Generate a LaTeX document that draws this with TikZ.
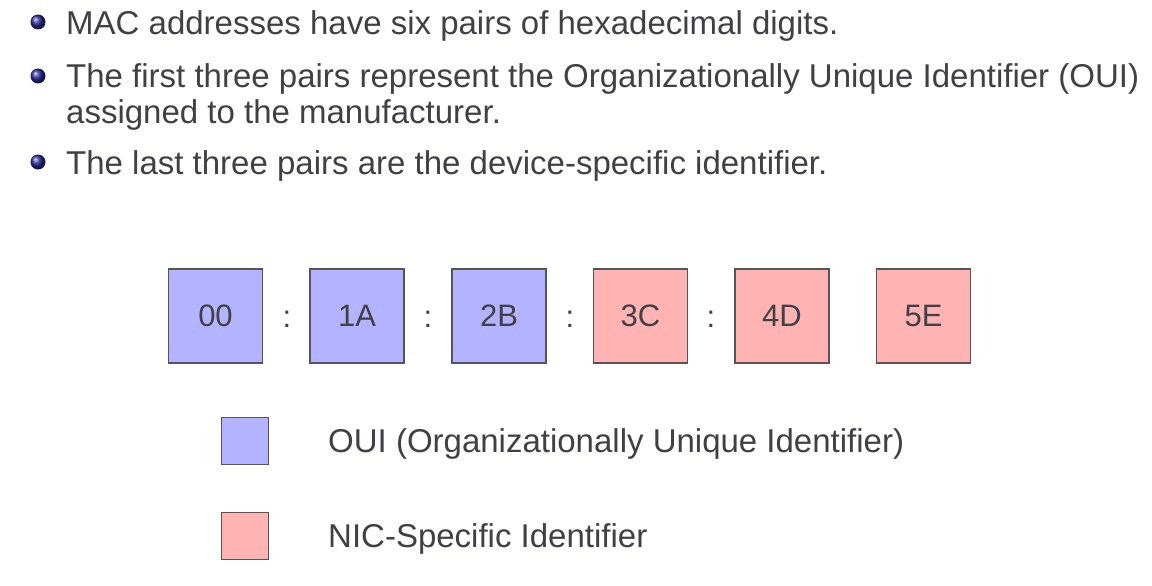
\documentclass[tikz,border=0pt]{standalone}
\usepackage{fontspec}
\setmainfont{Liberation Sans}
\definecolor{txt}{RGB}{64,64,70}
\definecolor{ouifill}{RGB}{179,179,255}
\definecolor{nicfill}{RGB}{255,179,179}
\definecolor{edge}{RGB}{85,85,85}
\definecolor{ballc}{RGB}{40,40,150}
\begin{document}
\begin{tikzpicture}[x=1pt,y=-1pt,
  line/.style={anchor=base west,inner sep=0pt,text=txt,font=\fontsize{33}{40}\selectfont},
  bytebox/.style={draw=edge,line width=1.4pt,minimum width=94pt,minimum height=94pt,inner sep=0pt,text=txt,font=\fontsize{31}{36}\selectfont},
  legbox/.style={draw=edge,line width=1.4pt,minimum width=47pt,minimum height=47pt,inner sep=0pt},
  sep/.style={anchor=base,inner sep=0pt,text=txt,font=\fontsize{31}{36}\selectfont}]
\useasboundingbox[fill=white] (0,0) rectangle (1152,586);
% bullets
\shade[ball color=ballc] (38,22) circle (7.5);
\shade[ball color=ballc] (38,76) circle (7.5);
\shade[ball color=ballc] (38,162) circle (7.5);
\node[line] (l1) at (66,35) {MAC addresses have six pairs of hexadecimal digits.};
\node[line] (l2) at (66,88) {The first three pairs represent the Organizationally Unique Identifier (OUI)};
\node[line] (l3) at (66,124) {assigned to the manufacturer.};
\node[line] (l4) at (66,174) {The last three pairs are the device-specific identifier.};
% bytes
\node[bytebox,fill=ouifill] (b1) at (215.5,316) {00};
\node[bytebox,fill=ouifill] (b2) at (357,316) {1A};
\node[bytebox,fill=ouifill] (b3) at (499,316) {2B};
\node[bytebox,fill=nicfill] (b4) at (640.5,316) {3C};
\node[bytebox,fill=nicfill] (b5) at (782,316) {4D};
\node[bytebox,fill=nicfill] (b6) at (923.5,316) {5E};
\node[sep] (c1) at (287,327) {:};
\node[sep] (c2) at (428,327) {:};
\node[sep] (c3) at (570,327) {:};
\node[sep] (c4) at (711,327) {:};
% legend
\node[legbox,fill=ouifill] (k1) at (245,441) {};
\node[legbox,fill=nicfill] (k2) at (245,536) {};
\node[line] (t1) at (328,452) {OUI (Organizationally Unique Identifier)};
\node[line] (t2) at (328,547) {NIC-Specific Identifier};
\end{tikzpicture}
\end{document}
